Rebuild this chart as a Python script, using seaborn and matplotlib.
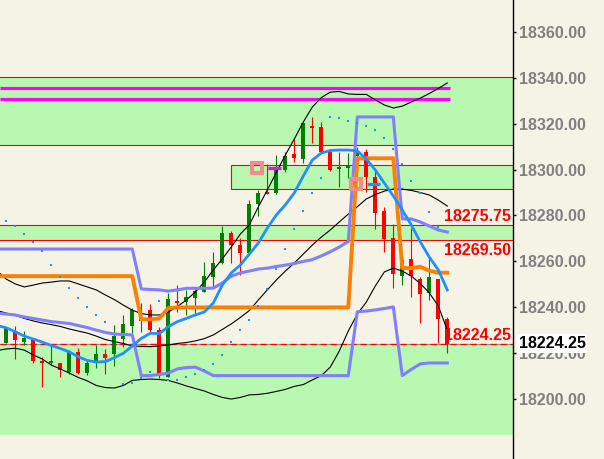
import numpy as np
import pandas as pd
import matplotlib
matplotlib.use("Agg")
import matplotlib.pyplot as plt
from matplotlib.patches import Rectangle
import seaborn as sns

# ---- price bars (oldest -> newest) ----
open_ = [18224.5, 18229.7, 18225.0, 18226.2, 18216.7, 18215.8, 18215.6, 18212.0, 18220.6, 18211.4,
         18216.2, 18219.7, 18219.9, 18226.1, 18231.7, 18234.0, 18238.8, 18230.1, 18209.9, 18242.9,
         18242.5, 18244.1, 18246.8, 18253.4, 18259.2, 18272.5, 18267.1, 18263.5, 18285.0, 18290.3,
         18289.6, 18299.8, 18306.7, 18304.6, 18319.0, 18318.5, 18307.8, 18300.1, 18300.5, 18305.9,
         18307.7, 18296.9, 18282.0, 18270.2, 18253.7, 18261.0, 18252.3, 18246.4, 18252.3, 18234.8]
high = [18231.2, 18232.1, 18229.7, 18226.4, 18218.4, 18223.6, 18215.8, 18221.4, 18222.2, 18217.5,
        18223.6, 18221.7, 18232.3, 18236.7, 18239.7, 18241.9, 18241.5, 18231.6, 18246.1, 18249.7,
        18247.5, 18248.4, 18259.9, 18264.2, 18275.4, 18273.2, 18270.0, 18286.7, 18291.1, 18302.5,
        18306.3, 18307.8, 18313.2, 18320.8, 18322.9, 18320.8, 18308.5, 18307.6, 18307.3, 18309.9,
        18308.8, 18299.8, 18283.7, 18276.5, 18262.8, 18274.4, 18253.3, 18262.1, 18252.3, 18235.9]
low = [18224.3, 18217.5, 18223.6, 18215.6, 18205.5, 18214.9, 18209.8, 18211.0, 18211.0, 18210.5,
       18213.4, 18211.2, 18214.5, 18222.9, 18228.8, 18229.4, 18228.8, 18209.3, 18209.7, 18238.1,
       18236.7, 18237.1, 18246.7, 18249.0, 18258.9, 18259.2, 18254.1, 18262.8, 18279.9, 18289.2,
       18289.5, 18299.0, 18303.3, 18302.7, 18311.4, 18307.3, 18299.3, 18292.5, 18296.2, 18302.7,
       18290.4, 18273.9, 18264.2, 18248.3, 18249.7, 18244.6, 18233.1, 18243.2, 18224.4, 18220.0]
close = [18230.9, 18225.8, 18226.7, 18216.7, 18215.6, 18216.7, 18212.7, 18220.9, 18211.3, 18215.8,
         18219.7, 18218.1, 18227.5, 18232.8, 18238.8, 18235.0, 18230.1, 18210.1, 18243.6, 18241.9,
         18244.4, 18247.2, 18253.7, 18259.4, 18272.5, 18267.1, 18263.5, 18285.0, 18289.6, 18289.2,
         18300.5, 18306.0, 18305.2, 18320.1, 18318.1, 18307.7, 18299.8, 18301.2, 18302.0, 18307.8,
         18296.9, 18281.3, 18269.6, 18254.7, 18260.6, 18253.7, 18245.8, 18253.3, 18234.8, 18224.25]

# ---- indicators, starting one bar before the first candle ----
ma_blue = [18232.1, 18231.1, 18229.4, 18227.5, 18226.2, 18224.9, 18223.4, 18222.1, 18220.6, 18218.5,
           18216.9, 18216.2, 18216.4, 18218.1, 18220.0, 18223.2, 18226.5, 18228.7, 18228.6, 18231.6,
           18233.8, 18235.2, 18236.7, 18238.0, 18241.9, 18249.7, 18255.0, 18258.4, 18263.2, 18268.0,
           18274.5, 18280.2, 18284.6, 18289.8, 18297.2, 18304.1, 18307.2, 18308.3, 18308.5, 18308.5,
           18308.1, 18304.6, 18299.8, 18294.1, 18288.5, 18282.4, 18275.9, 18268.5, 18261.9, 18256.3,
           18247.6]
bb_upper = [18255.8, 18252.3, 18250.2, 18248.9, 18249.7, 18250.6, 18251.0, 18251.5, 18251.5, 18250.2,
            18248.9, 18247.6, 18245.4, 18243.4, 18241.0, 18238.8, 18237.3, 18236.7, 18236.7, 18238.0,
            18240.3, 18243.2, 18246.7, 18251.0, 18256.3, 18261.1, 18266.3, 18271.9, 18275.9, 18283.7,
            18291.1, 18298.7, 18306.3, 18313.3, 18320.7, 18327.2, 18331.3, 18333.7, 18334.0, 18332.9,
            18332.7, 18332.7, 18330.3, 18328.1, 18326.8, 18327.6, 18329.4, 18331.1, 18333.1, 18335.3,
            18337.7]
bb_mid = [18238.6, 18237.5, 18236.5, 18235.2, 18234.1, 18233.2, 18232.5, 18231.7, 18230.6, 18229.7,
          18228.8, 18227.5, 18226.0, 18225.1, 18224.3, 18223.2, 18223.0, 18222.9, 18223.2, 18223.6,
          18224.3, 18224.7, 18225.4, 18226.4, 18228.0, 18230.4, 18232.8, 18235.6, 18238.6, 18243.2,
          18247.6, 18251.9, 18255.8, 18259.3, 18263.2, 18267.1, 18270.6, 18273.7, 18277.2, 18280.6,
          18283.8, 18287.2, 18289.1, 18290.6, 18291.5, 18291.5, 18290.9, 18290.0, 18288.9, 18286.7,
          18284.1]
bb_lower = [18221.2, 18221.9, 18222.2, 18221.4, 18219.3, 18217.5, 18214.9, 18213.2, 18211.4, 18209.5,
            18208.0, 18206.0, 18205.1, 18204.9, 18206.0, 18208.2, 18208.6, 18208.8, 18208.6, 18208.2,
            18207.1, 18205.8, 18204.7, 18203.6, 18202.1, 18200.8, 18200.1, 18200.8, 18201.9, 18202.1,
            18202.6, 18203.4, 18204.3, 18205.6, 18206.4, 18208.4, 18210.3, 18214.0, 18221.0, 18229.7,
            18237.1, 18242.3, 18249.3, 18255.4, 18257.1, 18255.8, 18253.6, 18250.4, 18246.3, 18240.6,
            18230.1]
env_upper = [18265.4, 18265.4, 18265.4, 18265.4, 18265.4, 18265.4, 18265.4, 18265.4, 18265.4, 18265.4,
             18265.4, 18265.4, 18265.4, 18265.4, 18265.4, 18265.4, 18248.0, 18247.8, 18247.6, 18247.1,
             18247.6, 18248.3, 18248.3, 18248.3, 18248.4, 18250.6, 18253.6, 18255.0, 18255.8, 18256.7,
             18257.1, 18257.8, 18258.4, 18259.1, 18260.0, 18260.8, 18262.4, 18264.2, 18266.3, 18268.7,
             18322.9, 18322.9, 18322.9, 18322.9, 18322.9, 18278.5, 18278.5, 18277.2, 18275.4, 18273.7,
             18272.8]
env_lower = [18237.5, 18237.1, 18236.7, 18235.8, 18235.2, 18234.5, 18233.8, 18233.4, 18233.0, 18232.1,
             18231.2, 18230.1, 18229.1, 18228.4, 18228.2, 18228.0, 18210.3, 18210.3, 18210.8, 18211.4,
             18213.2, 18213.8, 18214.0, 18212.3, 18210.3, 18210.3, 18210.3, 18210.3, 18210.3, 18210.3,
             18210.3, 18210.3, 18210.3, 18210.3, 18210.3, 18210.3, 18210.3, 18210.3, 18210.3, 18210.3,
             18238.1, 18238.4, 18238.9, 18239.5, 18240.2, 18210.3, 18213.0, 18215.4, 18215.8, 18215.8,
             18215.8]
stop_orange = [18253.6, 18253.6, 18253.6, 18253.6, 18253.6, 18253.6, 18253.6, 18253.6, 18253.6, 18253.6,
               18253.6, 18253.6, 18253.6, 18253.6, 18253.6, 18253.6, 18234.8, 18234.8, 18235.2, 18239.7,
               18240.0, 18240.0, 18240.0, 18240.0, 18240.0, 18240.0, 18240.0, 18240.0, 18240.0, 18240.0,
               18240.0, 18240.0, 18240.0, 18240.0, 18240.0, 18240.0, 18240.0, 18240.0, 18240.0, 18240.0,
               18304.9, 18304.9, 18304.9, 18304.9, 18304.9, 18257.1, 18257.1, 18257.7, 18256.0, 18255.1,
               18255.1]
# parabolic SAR, one per candle
sar = [18277.7, 18275.4, 18272.1, 18268.6, 18264.7, 18258.6, 18253.3, 18248.6, 18244.1, 18240.3,
       18236.8, 18233.8, np.nan, 18206.5, 18207.2, 18209.4, 18212.0, 18242.9, 18208.4, 18208.4,
       18209.8, 18211.2, 18212.7, 18215.4, 18219.3, 18225.1, 18230.3, 18234.5, 18240.6, 18248.0,
       18256.7, 18265.4, 18274.1, 18282.1, 18289.9, 18296.4, 18323.0, 18322.6, 18321.2, 18320.4,
       18319.1, 18317.2, 18313.9, 18309.1, 18302.2, 18295.0, 18289.6, 18281.6, 18274.8, 18266.7]

# ---- levels / zones ----
zone_top = (18310.6, 18340.4)
zone_mid = (18291.4, 18302.0)
zone_mid_from = 25
zone_band = (18269.5, 18275.75)
zone_low = (18184.6, 18224.25)
magenta_levels = [18335.3, 18330.5]
last_price = 18224.25
marks = [(28, 18300.7, '#FF00FF'), (39, 18293.7, '#1E90FF')]
ytick_vals = [18200, 18220, 18240, 18260, 18280, 18300, 18320, 18340, 18360]

bars = pd.DataFrame({'bar': np.arange(len(close)), 'open': open_, 'high': high,
                     'low': low, 'close': close, 'sar': sar})
ind = pd.DataFrame({'bar': np.arange(-1, len(close)), 'ma': ma_blue, 'up': bb_upper,
                    'mid': bb_mid, 'lo': bb_lower, 'env_up': env_upper,
                    'env_lo': env_lower, 'stop': stop_orange})

plt.rcParams['font.family'] = ['Liberation Sans', 'DejaVu Sans']
bg = '#F5F3E6'
green_zone = '#B8F8B0'
zone_red = '#FF0000'

fig = plt.figure(figsize=(6.04, 4.59), dpi=100)
fig.patch.set_facecolor(bg)
ax = fig.add_axes([0, 0, 513 / 604, 1])
ax.set_facecolor(bg)
x0, x1 = -0.7, 56.3
ax.set_xlim(x0, x1)
ax.set_ylim(18174.0, 18373.8)

# zones
for lo_, hi_ in (zone_top, zone_band):
    ax.axhspan(lo_, hi_, color=green_zone, lw=0, zorder=0.5)
    ax.axhline(lo_, color=zone_red, lw=0.8, zorder=1)
    ax.axhline(hi_, color=zone_red, lw=0.8, zorder=1)
ax.add_patch(Rectangle((zone_mid_from, zone_mid[0]), x1 - zone_mid_from, zone_mid[1] - zone_mid[0],
                       facecolor=green_zone, edgecolor=zone_red, lw=0.8, zorder=0.6))
ax.axhspan(zone_low[0], zone_low[1], color=green_zone, lw=0, zorder=0.5)
ax.axhline(last_price, color='#909090', lw=0.9, zorder=1)
ax.axhline(last_price, color='#FF0000', lw=0.9, dashes=(5, 3), zorder=1.1)

last_bar = bars['bar'].iloc[-1]
ax.hlines(magenta_levels, x0, last_bar + 0.3, color='#FF00FF', lw=2.3, zorder=1.2)

# candles
cols = np.where(bars['close'] >= bars['open'], '#008000', '#FF0000')
ax.vlines(bars['bar'], bars['low'], bars['high'], colors=cols, lw=0.8, zorder=2)
body_lo = np.minimum(bars['open'], bars['close'])
body_h = np.maximum(np.abs(bars['close'] - bars['open']), 0.5)
ax.bar(bars['bar'], body_h, bottom=body_lo, width=0.45, color=cols, lw=0, zorder=2.1)

# indicator lines
line_kw = dict(ax=ax, estimator=None, sort=False, legend=False)
sns.lineplot(data=ind, x='bar', y='up', color='black', lw=0.8, zorder=3, **line_kw)
sns.lineplot(data=ind, x='bar', y='mid', color='black', lw=0.8, zorder=3, **line_kw)
sns.lineplot(data=ind, x='bar', y='lo', color='black', lw=0.8, zorder=3, **line_kw)
sns.lineplot(data=ind, x='bar', y='env_up', color='#8080FF', lw=2.2, zorder=3.1, **line_kw)
sns.lineplot(data=ind, x='bar', y='env_lo', color='#8080FF', lw=2.2, zorder=3.1, **line_kw)
sns.lineplot(data=ind, x='bar', y='stop', color='#FF8000', lw=2.8, zorder=3.2, **line_kw)
sns.lineplot(data=ind, x='bar', y='ma', color='#1E90FF', lw=2.0, zorder=3.3, **line_kw)
sns.scatterplot(data=bars, x='bar', y='sar', marker='s', s=4, color='#1E90FF',
                linewidth=0, ax=ax, zorder=3.5, legend=False)

for b, lvl, c in marks:
    ax.plot([b - 0.15], [lvl], marker='s', ms=7.2, mfc='none', mec='#F28C8C', mew=2.9, zorder=4)
    ax.hlines(lvl, b + 1.05, b + 2.5, color=c, lw=2.3, zorder=4)

# price labels inside the plot
lab_kw = dict(xycoords=('axes fraction', 'data'), textcoords='offset points', ha='right',
              va='baseline', color='#FF0000', fontsize=11.5, fontweight='bold', zorder=5)
ax.annotate(f'{zone_band[1]:.2f}', xy=(1, zone_band[1]), xytext=(-1.5, 2.8), **lab_kw)
ax.annotate(f'{zone_band[0]:.2f}', xy=(1, zone_band[0]), xytext=(-1.5, -10.8), **lab_kw)
ax.annotate(f'{last_price:.2f}', xy=(1, last_price), xytext=(-1.5, 2.6), **lab_kw)

# right axis
for s in ('top', 'left', 'bottom'):
    ax.spines[s].set_visible(False)
ax.spines['right'].set_color('black')
ax.spines['right'].set_linewidth(1.0)
ax.set_xticks([])
ax.yaxis.tick_right()
ax.set_yticks(ytick_vals)
ax.set_yticklabels([f'{v:.2f}' for v in ytick_vals])
ax.tick_params(axis='y', length=2.5, width=1, pad=1.5, color='black', labelcolor='#808080',
               labelsize=11.5)
for t in ax.get_yticklabels():
    t.set_fontweight('bold')
ax.set_xlabel('')
ax.set_ylabel('')

# current price tag; it covers part of the 18220.00 label, as on the original chart
ax.annotate(f'{last_price:.2f}', xy=(1, last_price), xycoords=('axes fraction', 'data'),
            xytext=(4, 0), textcoords='offset points', ha='left', va='center',
            fontsize=11.5, fontweight='bold', color='black', annotation_clip=False,
            bbox=dict(facecolor='white', edgecolor='none', pad=1.2), zorder=6)

fig.savefig('out.png', dpi=100, facecolor=bg)
